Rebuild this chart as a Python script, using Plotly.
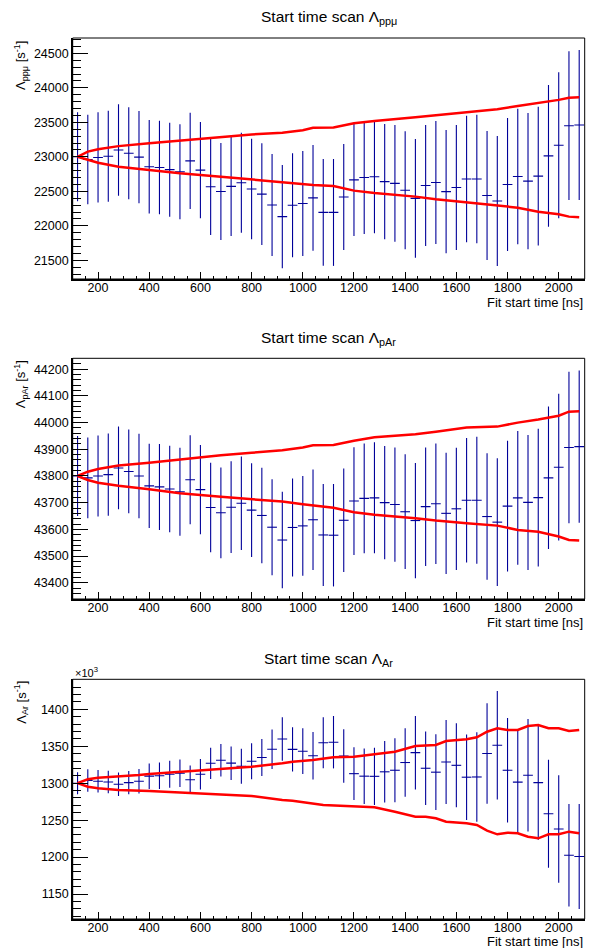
import plotly.graph_objects as go

# ---------------- data ----------------
fit_start_ns = [120, 160, 200, 240, 280, 320, 360, 400, 440, 480, 520, 560, 600, 640, 680,
                720, 760, 800, 840, 880, 920, 960, 1000, 1040, 1080, 1120, 1160, 1200, 1240,
                1280, 1320, 1360, 1400, 1440, 1480, 1520, 1560, 1600, 1640, 1680, 1720, 1760,
                1800, 1840, 1880, 1920, 1960, 2000, 2040, 2080]
x_halfwidth_ns = 19

lam_ppmu = [23000, 22962, 22991, 23009, 23099, 23051, 22995, 22857, 22846, 22814, 22783, 22941,
            22807, 22565, 22498, 22572, 22625, 22534, 22459, 22302, 22133, 22298, 22324, 22405,
            22195, 22194, 22418, 22665, 22701, 22712, 22640, 22615, 22515, 22398, 22585, 22628,
            22495, 22556, 22679, 22679, 22440, 22360, 22599, 22715, 22647, 22720, 23014, 23167,
            23451, 23462]
err_ppmu = [645, 649, 655, 659, 662, 667, 669, 677, 678, 681, 688, 698, 698, 698, 703, 720, 725,
            729, 737, 739, 749, 753, 761, 766, 774, 775, 768, 811, 819, 821, 836, 846, 855, 861,
            877, 891, 894, 906, 917, 932, 935, 942, 964, 982, 988, 1007, 1027, 1058, 1078, 1087]

lam_par = [43800, 43793, 43800, 43805, 43830, 43817, 43800, 43763, 43759, 43751, 43741, 43786,
           43749, 43682, 43662, 43683, 43698, 43672, 43652, 43608, 43560, 43607, 43613, 43636,
           43579, 43578, 43634, 43706, 43716, 43718, 43700, 43693, 43666, 43633, 43685, 43696,
           43660, 43677, 43709, 43709, 43648, 43627, 43687, 43718, 43701, 43719, 43793, 43833,
           43907, 43910]
err_par = [150, 151, 152, 154, 155, 157, 158, 158, 161, 162, 165, 167, 167, 168, 170, 172, 175,
           176, 179, 180, 181, 184, 187, 188, 191, 192, 194, 202, 206, 208, 212, 214, 215, 216,
           222, 226, 227, 229, 233, 238, 237, 239, 245, 251, 253, 258, 267, 275, 284, 285]

# Lambda_Ar in units of 10^3 s^-1
lam_ar_k = [1300.0, 1303.7, 1302.6, 1301.6, 1298.5, 1300.7, 1302.7, 1309.5, 1310.0, 1312.2,
            1313.5, 1304.7, 1312.2, 1326.9, 1331.0, 1327.1, 1323.0, 1329.6, 1334.8, 1346.0,
            1359.8, 1345.7, 1343.3, 1337.2, 1354.7, 1355.5, 1336.8, 1312.9, 1309.5, 1309.3,
            1315.4, 1317.5, 1328.0, 1341.3, 1320.2, 1314.9, 1328.7, 1324.2, 1308.1, 1308.4,
            1340.2, 1351.4, 1317.5, 1301.4, 1310.8, 1300.7, 1258.7, 1238.0, 1202.5, 1200.7]
err_ar_k = [14.9, 15.2, 15.3, 15.3, 15.8, 15.8, 16.5, 17.3, 17.9, 18.3, 18.7, 19.4, 20.6, 21.2,
            22.1, 22.7, 23.7, 24.4, 25.0, 26.8, 29.4, 30.0, 30.9, 32.1, 34.5, 35.5, 36.1, 35.6,
            37.6, 38.8, 41.7, 43.3, 46.3, 49.7, 49.7, 51.2, 56.8, 56.8, 57.9, 60.5, 68.1, 73.4,
            70.7, 69.4, 76.2, 77.4, 73.1, 72.8, 69.4, 71.1]

# red band curves
band_x_12 = [120, 160, 200, 280, 400, 520, 680, 800, 920, 1000, 1040, 1120, 1200, 1280, 1440,
             1520, 1640, 1760, 1840, 1920, 2000, 2040, 2080]
band_up_ppmu = [23000, 23075, 23110, 23155, 23195, 23235, 23285, 23325, 23350, 23385, 23420,
                23425, 23485, 23520, 23575, 23605, 23650, 23690, 23735, 23775, 23825, 23857, 23865]
band_lo_ppmu = [23000, 22954, 22915, 22857, 22809, 22762, 22712, 22674, 22636, 22605, 22592,
                22578, 22510, 22475, 22423, 22385, 22341, 22302, 22263, 22205, 22167, 22133, 22124]
band_up_par = [43800, 43816, 43826, 43839, 43850, 43863, 43878, 43887, 43896, 43907, 43915,
               43916, 43932, 43945, 43956, 43966, 43982, 43985, 44000, 44012, 44026, 44041, 44043]
band_lo_par = [43800, 43785, 43775, 43763, 43750, 43735, 43722, 43713, 43704, 43694, 43690,
               43681, 43664, 43655, 43642, 43633, 43623, 43614, 43598, 43591, 43573, 43560, 43558]

band_x_ar_up = [120, 160, 200, 280, 360, 400, 520, 600, 680, 800, 920, 960, 1040, 1120, 1200,
                1280, 1360, 1440, 1520, 1560, 1640, 1680, 1720, 1760, 1800, 1840, 1880, 1920,
                1960, 2000, 2040, 2080]
band_up_ar_k = [1300, 1305.3, 1307.4, 1308.8, 1311.1, 1312.5, 1315.6, 1317.9, 1320.2, 1322.3,
                1326.9, 1329.1, 1331.4, 1335.1, 1335.9, 1339.5, 1342.6, 1350.3, 1351.7, 1357.1,
                1359.4, 1362.1, 1369.7, 1374.3, 1372, 1372, 1377.4, 1378.8, 1374.3, 1374.3,
                1370.7, 1372]
band_x_ar_lo = [120, 160, 200, 280, 400, 520, 680, 800, 920, 960, 1080, 1200, 1280, 1360, 1440,
                1480, 1520, 1560, 1640, 1680, 1720, 1760, 1800, 1840, 1880, 1920, 1960, 2000,
                2040, 2080]
band_lo_ar_k = [1300, 1295.3, 1293.1, 1290.8, 1289.4, 1287.4, 1285.4, 1282.7, 1277.3, 1276.3,
                1270.5, 1269.1, 1267.4, 1261.4, 1254.7, 1254.7, 1252.5, 1247.9, 1245.7, 1243.4,
                1235.7, 1230.8, 1233, 1232.2, 1227.6, 1225.4, 1230.8, 1230.8, 1234.4, 1232.2]

titles = ["Start time scan Λ<sub>ppμ</sub>", "Start time scan Λ<sub>pAr</sub>",
          "Start time scan Λ<sub>Ar</sub>"]
ytitles = ["Λ<sub>ppμ</sub> [s<sup>-1</sup>]", "Λ<sub>pAr</sub> [s<sup>-1</sup>]",
           "Λ<sub>Ar</sub> [s<sup>-1</sup>]"]
xtitle = "Fit start time [ns]"

# ---------------- layout geometry ----------------
W, H = 590, 948
FONT = "Liberation Sans, Arial, Helvetica, sans-serif"
x_left, x_right = 72.7, 584.7
panels_px = [(38.0, 279.0), (358.3, 599.0), (679.3, 919.0)]
xtitle_off = [23, 23, 22]
y_ranges = [(21229, 24722), (43339, 44241), (1116.2, 1440.6)]
y_dticks = [500, 100, 50]
y_minor = [100, 20, 10]
x_range = (101, 2101.5)

def py(p):
    return 1 - p / H

def px(p):
    return p / W

series = [
    (lam_ppmu, err_ppmu, band_x_12, band_up_ppmu, band_x_12, band_lo_ppmu),
    (lam_par, err_par, band_x_12, band_up_par, band_x_12, band_lo_par),
    (lam_ar_k, err_ar_k, band_x_ar_up, band_up_ar_k, band_x_ar_lo, band_lo_ar_k),
]

fig = go.Figure()
layout = dict(width=W, height=H, margin=dict(l=0, r=0, t=0, b=0, autoexpand=False),
              paper_bgcolor="white", plot_bgcolor="white", showlegend=False,
              font=dict(family=FONT, color="black"))
annotations = []
shapes = []

for k, (vals, errs, xu, yu, xl, yl) in enumerate(series):
    n = "" if k == 0 else str(k + 1)
    xa, ya = "x" + n, "y" + n
    fig.add_trace(go.Scatter(
        x=fit_start_ns, y=vals, mode="markers", xaxis=xa, yaxis=ya,
        marker=dict(size=1, color="#000099", opacity=0),
        error_y=dict(type="data", array=errs, symmetric=True, color="#000099",
                     thickness=1.1, width=0),
        error_x=dict(type="constant", value=x_halfwidth_ns, color="#000099",
                     thickness=1.1, width=0),
        hoverinfo="skip"))
    for bx, by in ((xu, yu), (xl, yl)):
        fig.add_trace(go.Scatter(x=bx, y=by, mode="lines", xaxis=xa, yaxis=ya,
                                 line=dict(color="#ff0000", width=2.5), hoverinfo="skip"))
    top, bot = panels_px[k]
    dom_y = [py(bot), py(top)]
    layout["xaxis" + n] = dict(
        domain=[px(x_left), px(x_right)], range=list(x_range), anchor=ya, automargin=False,
        showgrid=False, zeroline=False, showline=True, linecolor="black", linewidth=1.5,
        ticks="inside", ticklen=7, tickwidth=1, tickcolor="black",
        tick0=200, dtick=200, tickformat="d", ticklabelstandoff=-4,
        tickfont=dict(size=12.5, family=FONT, color="black"),
        minor=dict(ticks="inside", ticklen=3.5, tickwidth=1, tickcolor="black", dtick=50,
                   tick0=0, showgrid=False))
    layout["yaxis" + n] = dict(
        domain=dom_y, range=list(y_ranges[k]), anchor=xa, automargin=False,
        showgrid=False, zeroline=False, showline=True, linecolor="black", linewidth=1.5,
        ticks="inside", ticklen=15, tickwidth=1, tickcolor="black",
        dtick=y_dticks[k], tickformat="d",
        tickfont=dict(size=12.5, family=FONT, color="black"),
        ticklabelstandoff=0,
        minor=dict(ticks="inside", ticklen=8, tickwidth=1, tickcolor="black",
                   dtick=y_minor[k], showgrid=False))
    shapes.append(dict(type="rect", xref="paper", yref="paper",
                       x0=px(x_left), x1=px(x_right), y0=py(bot), y1=py(top),
                       line=dict(color="black", width=1)))
    annotations.append(dict(text=titles[k], xref="paper", yref="paper",
                            x=px((x_left + x_right) / 2), y=py(top - 20),
                            xanchor="center", yanchor="middle", showarrow=False,
                            font=dict(size=15.5, family=FONT, color="black")))
    annotations.append(dict(text=ytitles[k], xref="paper", yref="paper",
                            x=px(21), y=py(top), xanchor="center", yanchor="top",
                            textangle=-90, showarrow=False,
                            font=dict(size=13, family=FONT, color="black")))
    annotations.append(dict(text=xtitle, xref="paper", yref="paper",
                            x=px(x_right), y=py(bot + xtitle_off[k]), xanchor="right",
                            yanchor="middle", showarrow=False,
                            font=dict(size=13, family=FONT, color="black")))

annotations.append(dict(text="×10<sup>3</sup>", xref="paper", yref="paper",
                        x=px(73), y=py(672), xanchor="left", yanchor="middle",
                        showarrow=False, font=dict(size=11, family=FONT, color="black")))

layout["annotations"] = annotations
layout["shapes"] = shapes
fig.update_layout(**layout)
fig.write_html("out.html", config={"displayModeBar": False, "staticPlot": True},
               post_script="document.body.style.margin='0px';document.body.style.padding='0px';"
                           "document.documentElement.style.overflow='hidden';")
